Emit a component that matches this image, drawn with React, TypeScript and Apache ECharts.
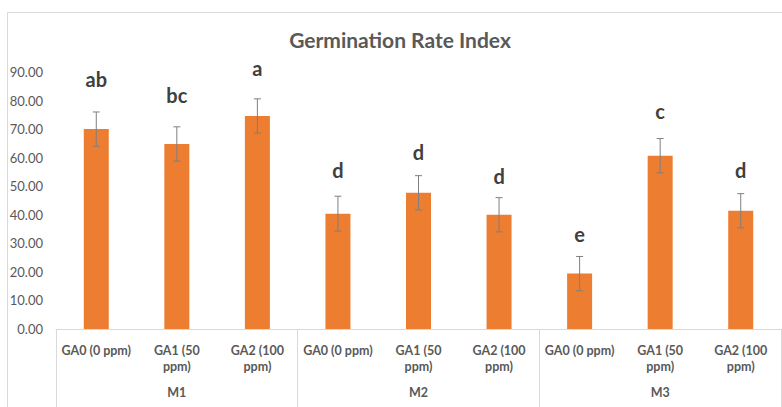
import React, { useEffect, useRef } from "react";
import * as echarts from "echarts";

const categories = [
  "GA0 (0 ppm)", "GA1 (50\nppm)", "GA2 (100\nppm)",
  "GA0 (0 ppm)", "GA1 (50\nppm)", "GA2 (100\nppm)",
  "GA0 (0 ppm)", "GA1 (50\nppm)", "GA2 (100\nppm)",
];
const groups = ["M1", "M2", "M3"];
const values = [70.0, 64.8, 74.6, 40.4, 47.7, 40.0, 19.4, 60.7, 41.4];
const errors = [6.0, 6.0, 6.0, 6.1, 6.0, 6.0, 6.0, 6.0, 6.0];
const letters = ["ab", "bc", "a", "d", "d", "d", "e", "c", "d"];
const letterAnchors = [85.1, 79.6, 88.9, 53.3, 59.4, 51.2, 30.8, 73.8, 53.3];
const yMin = 0;
const yMax = 90;
const yInterval = 10;

const FONT = "Lato, 'Open Sans', sans-serif";
const GRAY = "#595959";
const LINE = "#d9d9d9";

export default function App() {
  const ref = useRef<HTMLDivElement>(null);
  useEffect(() => {
    document.body.style.margin = "0";
    const chart = echarts.init(ref.current!, undefined, { renderer: "svg" });
    chart.setOption({
      animation: false,
      backgroundColor: "#ffffff",
      textStyle: { fontFamily: FONT },
      grid: { left: 56, right: 1, top: 72, bottom: 78, containLabel: false },
      graphic: [
        {
          type: "rect",
          shape: { x: 7.5, y: 12.5, width: 800, height: 500 },
          style: { fill: "none", stroke: LINE, lineWidth: 1 },
          silent: true,
        },
        {
          type: "text",
          x: 400,
          y: 39,
          style: {
            text: "Germination Rate Index",
            fill: GRAY,
            font: `bold 21px ${FONT}`,
            align: "center",
            verticalAlign: "middle",
          },
        },
      ],
      xAxis: [
        {
          type: "category",
          data: categories,
          position: "bottom",
          axisLine: { show: true, lineStyle: { color: LINE, width: 1 } },
          axisTick: { show: false },
          axisLabel: {
            interval: 0,
            margin: 13,
            fontSize: 12.5,
            fontWeight: "bold",
            color: GRAY,
            lineHeight: 16.5,
            fontFamily: FONT,
          },
        },
        {
          type: "category",
          data: groups,
          position: "bottom",
          offset: 0,
          axisLine: { show: false },
          axisTick: { show: true, length: 78, interval: 0, lineStyle: { color: LINE, width: 1 } },
          axisLabel: {
            interval: 0,
            margin: 57,
            fontSize: 12.5,
            fontWeight: "bold",
            color: GRAY,
            fontFamily: FONT,
          },
        },
      ],
      yAxis: {
        type: "value",
        min: yMin,
        max: yMax,
        interval: yInterval,
        axisLine: { show: false },
        axisTick: { show: false },
        splitLine: { show: false },
        axisLabel: {
          margin: 13,
          fontSize: 13,
          color: GRAY,
          fontFamily: FONT,
          formatter: (v: number) => v.toFixed(2),
        },
      },
      series: [
        {
          type: "bar",
          xAxisIndex: 0,
          data: values,
          barWidth: 25,
          itemStyle: { color: "#ED7D31" },
        },
        {
          type: "custom",
          xAxisIndex: 0,
          clip: false,
          z: 5,
          data: values.map((v, i) => [i, v, errors[i], letterAnchors[i]]),
          encode: { x: 0, y: 1 },
          renderItem: (params: any, api: any) => {
            const i = api.value(0);
            const v = api.value(1);
            const e = api.value(2);
            const la = api.value(3);
            const top = api.coord([i, v + e]);
            const bot = api.coord([i, v - e]);
            const lab = api.coord([i, la]);
            const x = top[0];
            const hw = 3.5;
            const ls = { stroke: "#7f7f7f", lineWidth: 1 };
            return {
              type: "group",
              children: [
                { type: "line", shape: { x1: x, y1: top[1], x2: x, y2: bot[1] }, style: ls },
                { type: "line", shape: { x1: x - hw, y1: top[1], x2: x + hw, y2: top[1] }, style: ls },
                { type: "line", shape: { x1: x - hw, y1: bot[1], x2: x + hw, y2: bot[1] }, style: ls },
                {
                  type: "text",
                  x: x,
                  y: lab[1] - 7,
                  style: {
                    text: letters[params.dataIndex],
                    fill: "#404040",
                    font: `bold 20px ${FONT}`,
                    align: "center",
                    verticalAlign: "middle",
                  },
                },
              ],
            };
          },
        },
      ],
    });
    return () => chart.dispose();
  }, []);
  return <div ref={ref} style={{ width: 782, height: 407 }} />;
}
